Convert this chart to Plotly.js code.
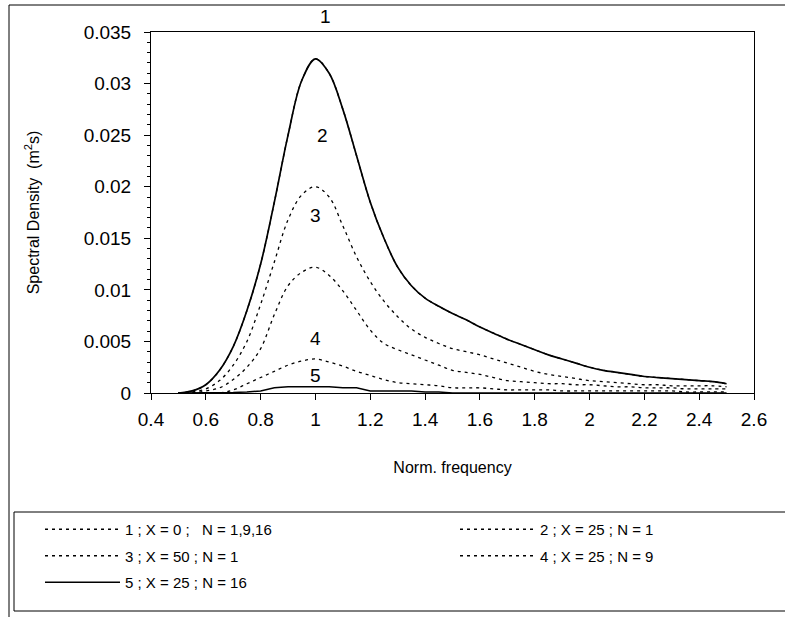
<!DOCTYPE html>
<html>
<head>
<meta charset="utf-8">
<script src="https://cdn.plot.ly/plotly-3.0.1.min.js"></script>
<style>html,body{margin:0;padding:0;background:#fff;}</style>
</head>
<body>
<div id="chart" style="width:785px;height:617px;"></div>
<script>
// Normalised frequency grid
var freq = [0.50,0.55,0.60,0.65,0.70,0.75,0.80,0.85,0.90,0.95,1.00,1.05,1.10,1.15,1.20,1.25,1.30,1.35,1.40,1.45,1.50,1.55,1.60,1.65,1.70,1.75,1.80,1.85,1.90,1.95,2.00,2.05,2.10,2.15,2.20,2.25,2.30,2.35,2.40,2.45,2.50];

// Spectral density (m^2 s)
var s1 = [0.0000,0.0002,0.0008,0.0022,0.0045,0.0080,0.0125,0.0185,0.0250,0.0303,0.0324,0.0310,0.0275,0.0230,0.0185,0.0150,0.0122,0.0104,0.0092,0.0084,0.0077,0.0071,0.0064,0.0058,0.0052,0.0047,0.0042,0.0037,0.0033,0.0029,0.0025,0.0022,0.0020,0.0018,0.0016,0.0015,0.0014,0.0013,0.0012,0.0011,0.0009];
var s2 = [0.0000,0.0001,0.0004,0.0012,0.0027,0.0050,0.0086,0.0127,0.0168,0.0192,0.0200,0.0190,0.0162,0.0132,0.0108,0.0089,0.0074,0.0062,0.0054,0.0048,0.0043,0.0040,0.0037,0.0033,0.0029,0.0025,0.0021,0.0018,0.0016,0.0014,0.0012,0.0011,0.0010,0.0009,0.0008,0.0008,0.0007,0.0007,0.0007,0.0007,0.0006];
var s3 = [0.0000,0.0000,0.0002,0.0005,0.0013,0.0025,0.0043,0.0076,0.0104,0.0117,0.0122,0.0114,0.0099,0.0080,0.0061,0.0048,0.0042,0.0037,0.0032,0.0027,0.0022,0.0020,0.0018,0.0015,0.0012,0.0011,0.0010,0.0009,0.0009,0.0008,0.0008,0.0007,0.0006,0.0006,0.0005,0.0005,0.0005,0.0004,0.0004,0.0004,0.0004];
var s4 = [0.0000,0.0000,0.0000,0.00002,0.0003,0.0009,0.0015,0.0021,0.0027,0.0031,0.0033,0.0030,0.0026,0.0021,0.0017,0.0013,0.0010,0.0009,0.0008,0.0007,0.0005,0.0005,0.0005,0.0004,0.0003,0.0003,0.0003,0.0003,0.0002,0.0002,0.0002,0.0002,0.0002,0.0002,0.0002,0.0002,0.0002,0.0001,0.0001,0.0001,0.0001];
var s5 = [0.0000,0.0000,0.0000,0.0000,0.00005,0.0001,0.0002,0.0005,0.0006,0.0006,0.0006,0.0006,0.0005,0.0005,0.0002,0.0002,0.0002,0.0002,0.0001,0.0001,0.0000,0.0000,0.0000,0.0000,0.0000,0.0000,0.0000,0.0000,0.0000,0.0000,0.0000,0.0000,0.0000,0.0000,0.0000,0.0000,0.0000,0.0000,0.0000,0.0000,0.0000];

var seriesNames = ["1 ; X = 0 ;\u00A0\u00A0\u00A0N = 1,9,16", "2 ; X = 25 ; N = 1", "3 ; X = 50 ; N = 1", "4 ; X = 25 ; N = 9", "5 ; X = 25 ; N = 16"];
var curveLabels = ["1", "2", "3", "4", "5"];
var labelX = [1.035, 1.024, 1.0, 1.0, 1.0];
var labelY = [0.0349, 0.0250, 0.0172, 0.0053, 0.00165];
var labelShift = [17, 0, 0, 0, 0];

var FONT = "Liberation Sans, Arial, sans-serif";
var dotted = "3px,4px";
var SM = 1.0;

var traces = [
  {x: freq, y: s1, mode: "lines", line: {color: "#000", width: 1.7, shape: "spline", smoothing: SM}, showlegend: false, hoverinfo: "skip"},
  {x: freq, y: s1, name: seriesNames[0], mode: "lines", line: {color: "#000", width: 1.3, dash: dotted, shape: "spline", smoothing: SM}, legend: "legend", legendgroup: "a"},
  {x: freq, y: s2, name: seriesNames[1], mode: "lines", line: {color: "#000", width: 1.3, dash: dotted, shape: "spline", smoothing: SM}, legend: "legend2", legendgroup: "b"},
  {x: freq, y: s3, name: seriesNames[2], mode: "lines", line: {color: "#000", width: 1.3, dash: dotted, shape: "spline", smoothing: SM}, legend: "legend", legendgroup: "c"},
  {x: freq, y: s4, name: seriesNames[3], mode: "lines", line: {color: "#000", width: 1.3, dash: dotted, shape: "spline", smoothing: SM}, legend: "legend2", legendgroup: "d"},
  {x: freq, y: s5, name: seriesNames[4], mode: "lines", line: {color: "#000", width: 1.5}, legend: "legend", legendgroup: "e"}
];

var L = 151, R = 31, T = 32, B = 224;
var W = 785 - L - R, H = 617 - T - B;
function px(xp) { return (xp - L) / W; }
function py(yp) { return (617 - B - yp) / H; }

var annotations = curveLabels.map(function (t, i) {
  return {x: labelX[i], y: labelY[i], xref: "x", yref: "y", yshift: labelShift[i], text: t, showarrow: false,
          font: {family: FONT, size: 19, color: "#000"}};
});

var legendCommon = {
  orientation: "v", xanchor: "left", yanchor: "top", bgcolor: "rgba(0,0,0,0)",
  borderwidth: 0, font: {family: FONT, size: 15, color: "#000"},
  tracegroupgap: 4, traceorder: "grouped", itemwidth: 75
};

var layout = {
  width: 785, height: 617,
  margin: {l: L, r: R, t: T, b: B, pad: 0},
  paper_bgcolor: "#fff", plot_bgcolor: "#fff",
  font: {family: FONT, color: "#000"},
  showlegend: true,
  xaxis: {
    range: [0.4, 2.6], dtick: 0.2, tick0: 0.4, showgrid: false, zeroline: false,
    showline: true, linecolor: "#000", linewidth: 1, mirror: true,
    ticks: "outside", ticklen: 6, tickcolor: "#000", ticklabelstandoff: 3,
    tickfont: {family: FONT, size: 19, color: "#000"},
    title: {text: "Norm. frequency", font: {family: FONT, size: 16, color: "#000"}, standoff: 33}
  },
  yaxis: {
    range: [0, 0.035], dtick: 0.005, tick0: 0, showgrid: false, zeroline: false,
    showline: true, linecolor: "#000", linewidth: 1, mirror: true,
    ticks: "outside", ticklen: 6, tickcolor: "#000", ticklabelstandoff: 9,
    minor: {dtick: 0.001, ticks: "outside", ticklen: 3, tickcolor: "#000", showgrid: false},
    tickfont: {family: FONT, size: 19, color: "#000"},
    title: {text: "Spectral Density\u00A0\u00A0(m<sup>2</sup>s)", font: {family: FONT, size: 16, color: "#000"}, standoff: 40}
  },
  legend: Object.assign({}, legendCommon, {x: px(40), y: py(513)}),
  legend2: Object.assign({}, legendCommon, {x: px(455), y: py(513)}),
  annotations: annotations,
  shapes: [
    {type: "rect", xref: "paper", yref: "paper", x0: px(9), x1: px(800), y0: py(640), y1: py(5),
     line: {color: "#000", width: 1}, fillcolor: "rgba(0,0,0,0)", layer: "below"},
    {type: "rect", xref: "paper", yref: "paper", x0: px(14), x1: px(800), y0: py(611), y1: py(512),
     line: {color: "#000", width: 1}, fillcolor: "rgba(0,0,0,0)", layer: "below"}
  ]
};

Plotly.newPlot("chart", traces, layout, {displayModeBar: false, staticPlot: true});
</script>
</body>
</html>
